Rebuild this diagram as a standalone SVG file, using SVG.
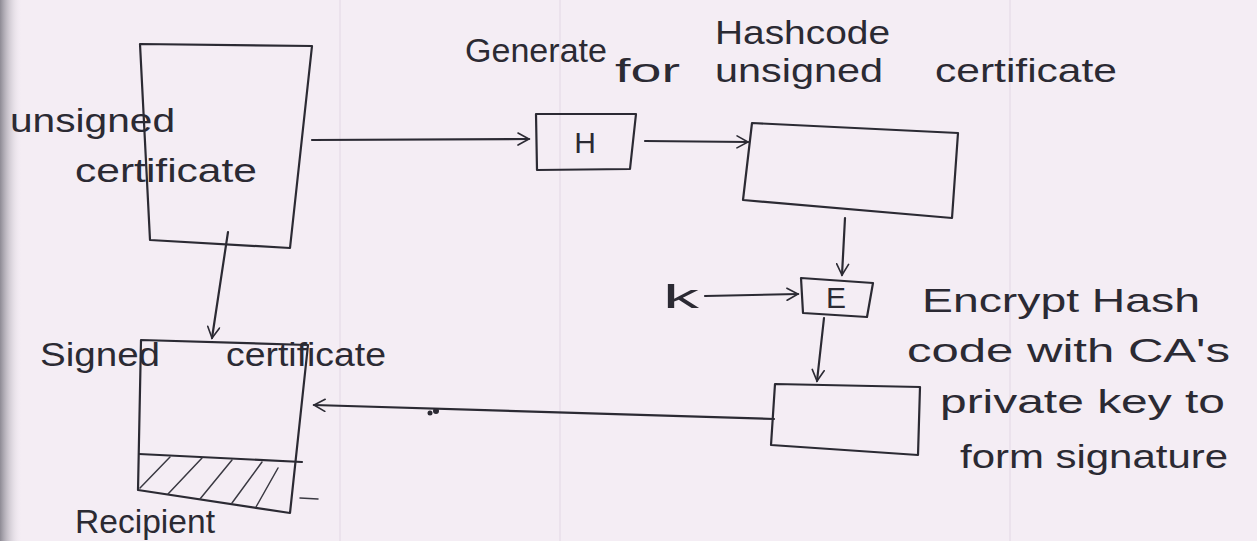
<svg xmlns="http://www.w3.org/2000/svg" width="1257" height="541" viewBox="0 0 1257 541">
<defs>
<style>
.ink{fill:none;stroke:#2b2a33;stroke-width:2.2;stroke-linecap:round;stroke-linejoin:round}
.thin{fill:none;stroke:#3a3942;stroke-width:1.5;stroke-linecap:round}
.t{font-family:"Liberation Sans","DejaVu Sans",sans-serif;fill:#2b2a33;font-size:34px}
.lbl{font-family:"Liberation Sans","DejaVu Sans",sans-serif;fill:#2b2a33;font-size:30px;text-anchor:middle}
</style>
<marker id="ah" viewBox="0 0 14 14" refX="12" refY="7" markerWidth="14" markerHeight="14" markerUnits="userSpaceOnUse" orient="auto">
<path d="M1,1 L12,7 L1,13" fill="none" stroke="#2b2a33" stroke-width="1.6" stroke-linecap="round"/>
</marker>
<linearGradient id="edge" x1="0" x2="1" y1="0" y2="0">
<stop offset="0" stop-color="#8d8a94"/>
<stop offset="1" stop-color="#f2ebf3" stop-opacity="0"/>
</linearGradient>
</defs>
<rect width="1257" height="541" fill="#f4edf4"/>
<rect width="22" height="541" fill="url(#edge)"/>
<g stroke="#ebe2ec" stroke-width="2">
<line x1="340" y1="0" x2="340" y2="541"/>
<line x1="560" y1="0" x2="560" y2="541"/>
<line x1="1010" y1="0" x2="1010" y2="541"/>
</g>

<g id="unsigned-cert">
<polygon class="ink" points="140,44 312,46 290,248 150,240"/>
<text class="t" x="10" y="132" textLength="165" lengthAdjust="spacingAndGlyphs">unsigned</text>
<text class="t" x="75" y="182" textLength="182" lengthAdjust="spacingAndGlyphs">certificate</text>
</g>

<g id="hash-label">
<text class="t" x="465" y="62" textLength="142" lengthAdjust="spacingAndGlyphs">Generate</text>
<text class="t" x="715" y="44" textLength="175" lengthAdjust="spacingAndGlyphs">Hashcode</text>
<text class="t" x="615" y="82" textLength="65" lengthAdjust="spacingAndGlyphs">for</text>
<text class="t" x="715" y="82" textLength="168" lengthAdjust="spacingAndGlyphs">unsigned</text>
<text class="t" x="935" y="82" textLength="182" lengthAdjust="spacingAndGlyphs">certificate</text>
</g>

<g id="H">
<polygon class="ink" points="536,114 636,114 630,169 537,170"/>
<text class="lbl" x="585" y="153">H</text>
</g>

<g id="hashcode">
<polygon class="ink" points="752,123 958,133 952,218 743,200"/>
</g>

<g id="E">
<polygon class="ink" points="801,278 873,283 867,317 803,313"/>
<text class="lbl" x="836" y="308" font-size="26">E</text>
</g>

<g id="k">
<text class="t" x="663" y="308" textLength="36" lengthAdjust="spacingAndGlyphs">k</text>
</g>

<g id="encrypt-label">
<text class="t" x="922" y="312" textLength="278" lengthAdjust="spacingAndGlyphs">Encrypt Hash</text>
<text class="t" x="907" y="362" textLength="323" lengthAdjust="spacingAndGlyphs">code with CA's</text>
<text class="t" x="940" y="413" textLength="285" lengthAdjust="spacingAndGlyphs">private key to</text>
<text class="t" x="960" y="468" textLength="268" lengthAdjust="spacingAndGlyphs">form signature</text>
</g>

<g id="signature">
<polygon class="ink" points="775,384 920,387 918,455 771,445"/>
</g>

<g id="signed-cert">
<polygon class="ink" points="141,340 308,345 290,513 138,490"/>
<line class="ink" x1="139" y1="454" x2="302" y2="462"/>
<g class="thin">
<line x1="140" y1="488" x2="170" y2="457"/>
<line x1="168" y1="494" x2="202" y2="458"/>
<line x1="200" y1="499" x2="232" y2="460"/>
<line x1="232" y1="503" x2="262" y2="462"/>
<line x1="256" y1="507" x2="278" y2="468"/>
<line x1="300" y1="498" x2="318" y2="499"/>
</g>
<text class="t" x="40" y="366" textLength="120" lengthAdjust="spacingAndGlyphs">Signed</text>
<text class="t" x="226" y="366" textLength="160" lengthAdjust="spacingAndGlyphs">certificate</text>
<text class="t" x="75" y="533" font-size="24" textLength="140" lengthAdjust="spacingAndGlyphs">Recipient</text>
</g>

<g id="connectors">
<line class="ink" x1="312" y1="140" x2="529" y2="139" marker-end="url(#ah)"/>
<line class="ink" x1="645" y1="141" x2="748" y2="142" marker-end="url(#ah)"/>
<line class="ink" x1="845" y1="218" x2="842" y2="275" marker-end="url(#ah)"/>
<line class="ink" x1="705" y1="296" x2="798" y2="294" marker-end="url(#ah)"/>
<line class="ink" x1="824" y1="318" x2="817" y2="381" marker-end="url(#ah)"/>
<line class="ink" x1="774" y1="419" x2="314" y2="405" marker-end="url(#ah)"/>
<line class="ink" x1="228" y1="232" x2="212" y2="338" marker-end="url(#ah)"/>
<circle cx="430" cy="413" r="2.5" fill="#2b2a33"/>
<circle cx="436" cy="411" r="3" fill="#2b2a33"/>
</g>
</svg>
